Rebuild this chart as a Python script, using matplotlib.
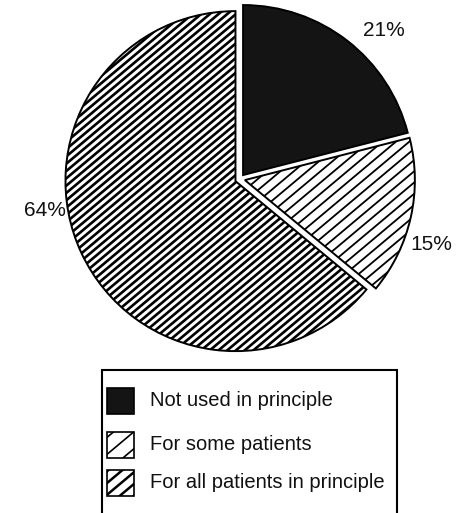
import numpy as np
import matplotlib
matplotlib.use("Agg")
import matplotlib.pyplot as plt
from matplotlib.collections import LineCollection
from matplotlib.patches import Rectangle

plt.rcParams["font.family"] = ["Liberation Sans", "DejaVu Sans"]

# Data
categories = ["Not used in principle", "For some patients", "For all patients in principle"]
shares = [21, 15, 64]
pct_labels = [f"{v}%" for v in shares]

# Figure laid out in pixel units
W, H = 474, 513
fig = plt.figure(figsize=(W / 100, H / 100), dpi=100)
ax = fig.add_axes([0, 0, 1, 1])

center = (240, H - 179)
radius = 170
fills = ["#141414", "white", "white"]
# hatch spacing (perpendicular, px), line width for each slice (None = solid)
hatch_style = [None, (8.6, 1.3), (5.6, 1.9)]

wedges, _ = ax.pie(
    shares, startangle=90, counterclock=False, center=center, radius=radius,
    explode=[5, 5, 5], colors=fills, frame=True,
    wedgeprops=dict(edgecolor="black", linewidth=1.4),
)

ax.set_xlim(0, W)
ax.set_ylim(0, H)
ax.set_aspect("equal")
ax.axis("off")


def add_hatch(patch, spacing, lw, angle=40, z=3):
    """Diagonal line hatching clipped to a patch."""
    a = np.deg2rad(angle)
    d = np.array([np.cos(a), np.sin(a)])
    n = np.array([-np.sin(a), np.cos(a)])
    mid = np.array([W / 2, H / 2])
    L = 900
    segs = []
    for c in np.arange(-900, 900, spacing):
        p = mid + c * n
        segs.append([p - L * d, p + L * d])
    lc = LineCollection(segs, colors="black", linewidths=lw, zorder=z)
    ax.add_collection(lc)
    lc.set_clip_path(patch)


for w, hs in zip(wedges, hatch_style):
    if hs is not None:
        add_hatch(w, *hs)

# Percentage labels
label_pos = [(384, H - 30), (431, H - 245), (45, H - 210)]
for (x, y), txt in zip(label_pos, pct_labels):
    ax.text(x, y, txt, ha="center", va="center", fontsize=15, color="#111")

# Legend box
ax.add_patch(Rectangle((102, -20), 295, H - 370 + 20, fill=False,
                       edgecolor="black", linewidth=1.5, zorder=4))
leg_y = [401, 445, 483]
leg_hatch = [None, (13, 1.2), (9, 1.8)]
for yc, cat, fc, hs in zip(leg_y, categories, fills, leg_hatch):
    sq = Rectangle((107, H - yc - 13), 27, 26, facecolor=fc,
                   edgecolor="black", linewidth=1.2, zorder=4)
    ax.add_patch(sq)
    if hs is not None:
        add_hatch(sq, *hs, z=5)
    ax.text(150, H - yc, cat, ha="left", va="center", fontsize=14.5, color="#111")

fig.savefig("out.png", dpi=100)
